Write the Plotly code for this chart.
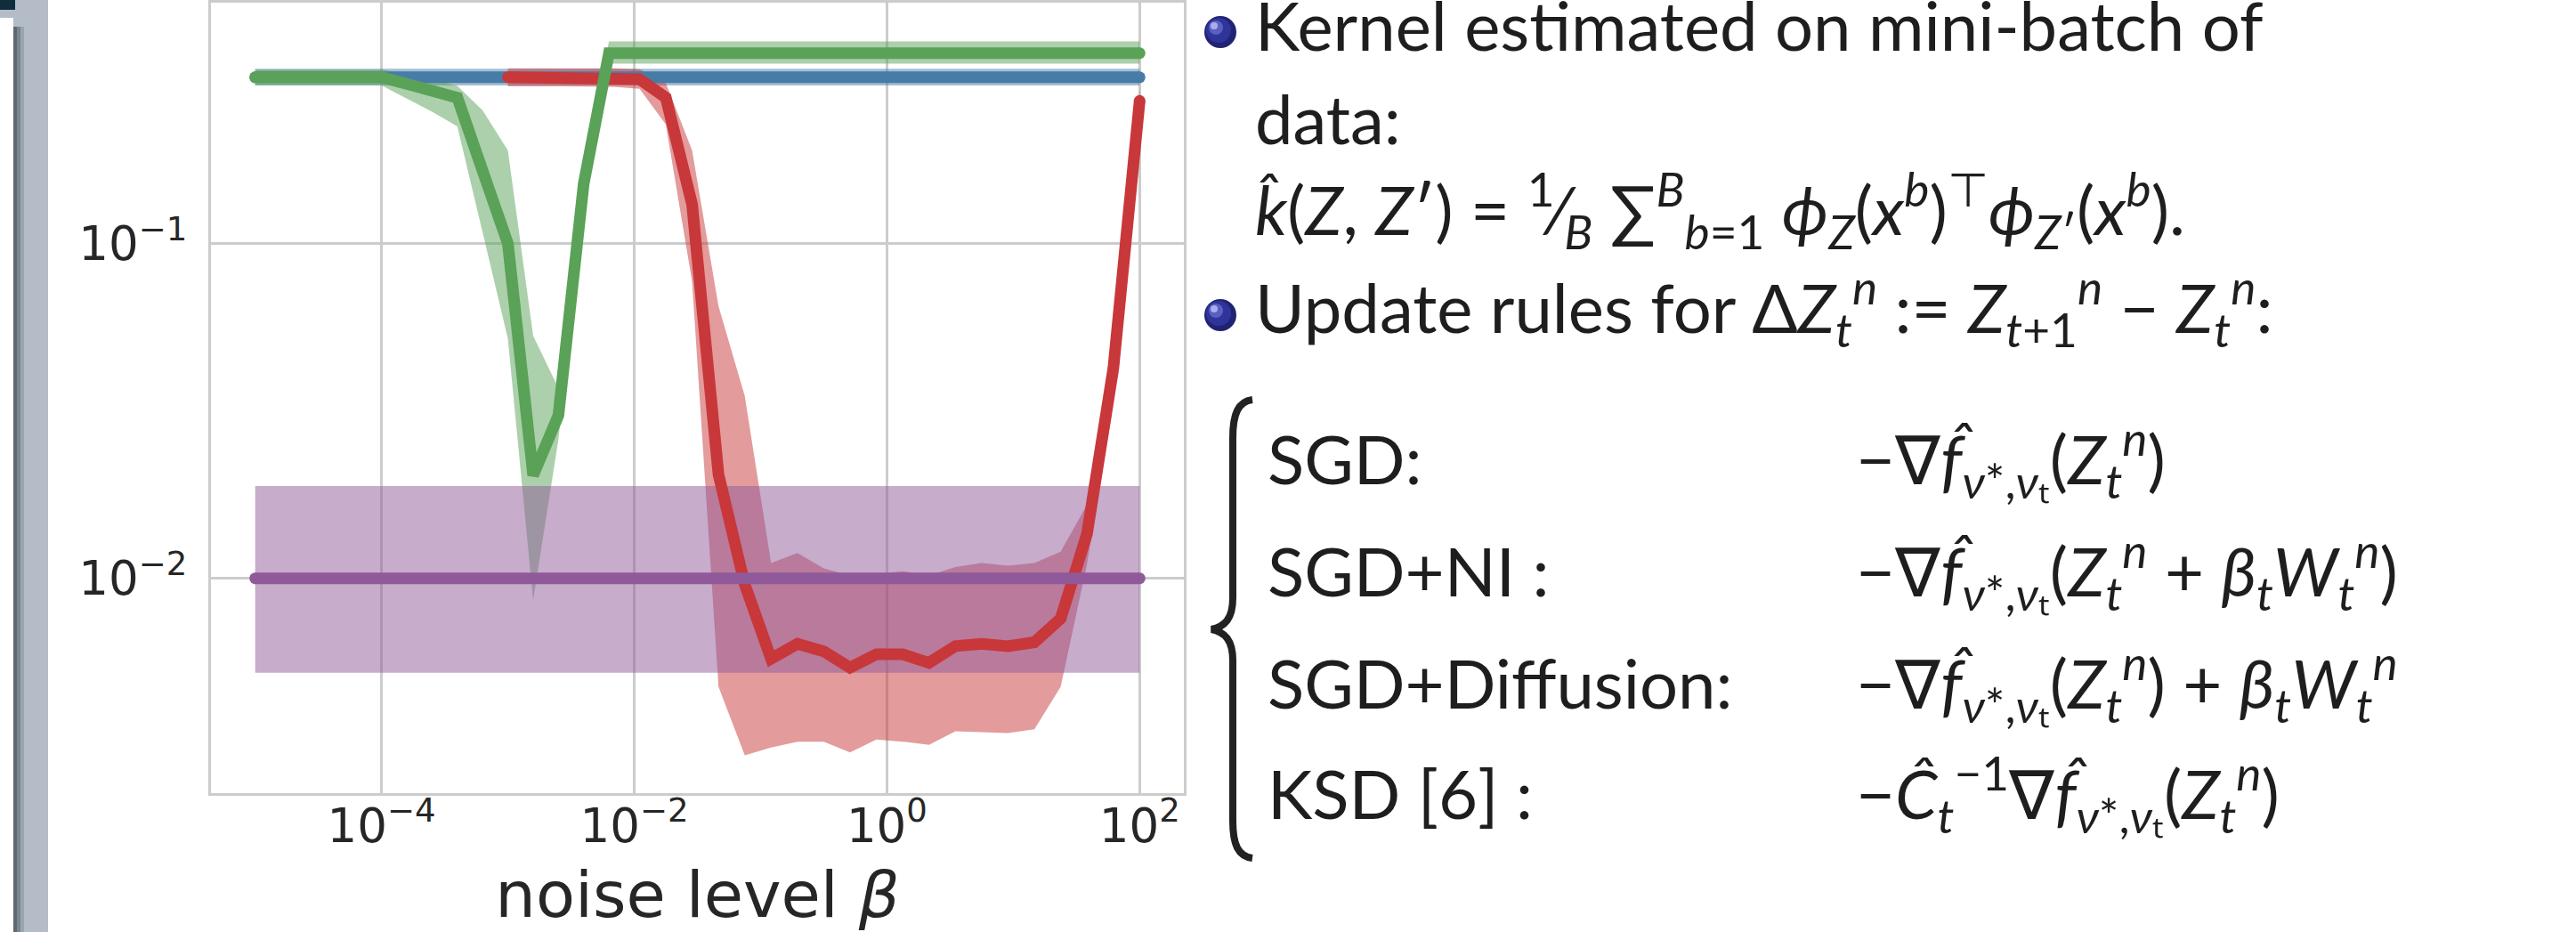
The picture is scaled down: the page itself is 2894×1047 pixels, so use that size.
import numpy as np
import plotly.graph_objects as go

# ---------------- figure geometry ----------------
W, H = 2894, 1047
ML, MR, MT, MB = 237, 1564, 3, 156
PW = W - ML - MR
PH = H - MT - MB


def xp(px):
    return (px - ML) / PW


def yp(py):
    return (H - MB - py) / PH


# ---------------- data ----------------
# noise levels (log10 beta) for the full sweep and for the diffusion sweep
EXP_FULL = [-5.0, -4.8, -4.6, -4.4, -4.2, -4.0, -3.8, -3.6, -3.4, -3.2, -3.0, -2.8,
            -2.6, -2.4, -2.2, -2.0, -1.8, -1.6, -1.4, -1.2, -1.0, -0.8, -0.6, -0.4,
            -0.2, 0.0, 0.2, 0.4, 0.6, 0.8, 1.0, 1.2, 1.4, 1.6, 1.8, 2.0]
EXP_DIFF = [-3.0, -2.792, -2.583, -2.375, -2.167, -1.958, -1.75, -1.542, -1.333,
            -1.125, -0.917, -0.708, -0.5, -0.292, -0.083, 0.125, 0.333, 0.542,
            0.75, 0.958, 1.167, 1.375, 1.583, 1.792, 2.0]

# SGD
sgd_mean = [0.314, 0.314, 0.314, 0.314, 0.314, 0.314, 0.314, 0.314, 0.314, 0.314, 0.314, 0.314,
            0.314, 0.314, 0.314, 0.314, 0.314, 0.314, 0.314, 0.314, 0.314, 0.314, 0.314, 0.314,
            0.314, 0.314, 0.314, 0.314, 0.314, 0.314, 0.314, 0.314, 0.314, 0.314, 0.314, 0.314]
sgd_low = [0.297, 0.297, 0.297, 0.297, 0.297, 0.297, 0.297, 0.297, 0.297, 0.297, 0.297, 0.297,
           0.297, 0.297, 0.297, 0.297, 0.297, 0.297, 0.297, 0.297, 0.297, 0.297, 0.297, 0.297,
           0.297, 0.297, 0.297, 0.297, 0.297, 0.297, 0.297, 0.297, 0.297, 0.297, 0.297, 0.297]
sgd_high = [0.333, 0.333, 0.333, 0.333, 0.333, 0.333, 0.333, 0.333, 0.333, 0.333, 0.333, 0.333,
            0.333, 0.333, 0.333, 0.333, 0.333, 0.333, 0.333, 0.333, 0.333, 0.333, 0.333, 0.333,
            0.333, 0.333, 0.333, 0.333, 0.333, 0.333, 0.333, 0.333, 0.333, 0.333, 0.333, 0.333]

# SGD + noise injection
ni_mean = [0.314, 0.314, 0.314, 0.314, 0.314, 0.314, 0.300, 0.287, 0.273, 0.165, 0.100, 0.0203,
           0.0307, 0.151, 0.371, 0.371, 0.371, 0.371, 0.371, 0.371, 0.371, 0.371, 0.371, 0.371,
           0.371, 0.371, 0.371, 0.371, 0.371, 0.371, 0.371, 0.371, 0.371, 0.371, 0.371, 0.371]
ni_low = [0.297, 0.297, 0.297, 0.297, 0.297, 0.297, 0.272, 0.248, 0.224, 0.108, 0.052, 0.0086,
          0.026, 0.135, 0.345, 0.345, 0.345, 0.345, 0.345, 0.345, 0.345, 0.345, 0.345, 0.345,
          0.345, 0.345, 0.345, 0.345, 0.345, 0.345, 0.345, 0.345, 0.345, 0.345, 0.345, 0.345]
ni_high = [0.331, 0.331, 0.331, 0.331, 0.331, 0.331, 0.322, 0.310, 0.296, 0.250, 0.190, 0.053,
           0.037, 0.165, 0.402, 0.402, 0.402, 0.402, 0.402, 0.402, 0.402, 0.402, 0.402, 0.402,
           0.402, 0.402, 0.402, 0.402, 0.402, 0.402, 0.402, 0.402, 0.402, 0.402, 0.402, 0.402]

# SGD + diffusion
diff_mean = [0.314, 0.314, 0.314, 0.314, 0.313, 0.310, 0.273, 0.131, 0.0204, 0.00958, 0.00575,
             0.00637, 0.00605, 0.00541, 0.00593, 0.00593, 0.00559, 0.00627, 0.00637, 0.00627,
             0.00644, 0.00758, 0.01355, 0.0424, 0.267]
diff_low = [0.295, 0.295, 0.295, 0.295, 0.294, 0.290, 0.227, 0.077, 0.00474, 0.00296, 0.00312,
            0.00325, 0.00325, 0.00302, 0.0033, 0.00325, 0.00318, 0.00349, 0.00347, 0.00345,
            0.00354, 0.00474, 0.011, 0.033, 0.25]
diff_high = [0.334, 0.334, 0.334, 0.334, 0.334, 0.332, 0.302, 0.19, 0.065, 0.035, 0.0111,
             0.0119, 0.0107, 0.0102, 0.0103, 0.0105, 0.0102, 0.0108, 0.0111, 0.0109,
             0.0111, 0.0120, 0.0166, 0.052, 0.29]

# KSD
ksd_mean = [0.01, 0.01, 0.01, 0.01, 0.01, 0.01, 0.01, 0.01, 0.01, 0.01, 0.01, 0.01,
            0.01, 0.01, 0.01, 0.01, 0.01, 0.01, 0.01, 0.01, 0.01, 0.01, 0.01, 0.01,
            0.01, 0.01, 0.01, 0.01, 0.01, 0.01, 0.01, 0.01, 0.01, 0.01, 0.01, 0.01]
ksd_low = [0.00522, 0.00522, 0.00522, 0.00522, 0.00522, 0.00522, 0.00522, 0.00522, 0.00522,
           0.00522, 0.00522, 0.00522, 0.00522, 0.00522, 0.00522, 0.00522, 0.00522, 0.00522,
           0.00522, 0.00522, 0.00522, 0.00522, 0.00522, 0.00522, 0.00522, 0.00522, 0.00522,
           0.00522, 0.00522, 0.00522, 0.00522, 0.00522, 0.00522, 0.00522, 0.00522, 0.00522]
ksd_high = [0.01886, 0.01886, 0.01886, 0.01886, 0.01886, 0.01886, 0.01886, 0.01886, 0.01886,
            0.01886, 0.01886, 0.01886, 0.01886, 0.01886, 0.01886, 0.01886, 0.01886, 0.01886,
            0.01886, 0.01886, 0.01886, 0.01886, 0.01886, 0.01886, 0.01886, 0.01886, 0.01886,
            0.01886, 0.01886, 0.01886, 0.01886, 0.01886, 0.01886, 0.01886, 0.01886, 0.01886]

X_TICKS = [1e-4, 1e-2, 1e0, 1e2]
X_TICKTEXT = ["10<sup>\u22124</sup>", "10<sup>\u22122</sup>", "10<sup>0</sup>", "10<sup>2</sup>"]
Y_TICKS = [1e-2, 1e-1]
Y_TICKTEXT = ["10<sup>\u22122</sup>", "10<sup>\u22121</sup>"]

beta_full = [10 ** e for e in EXP_FULL]
beta_diff = [10 ** e for e in EXP_DIFF]

BLUE, GREEN, RED, PURPLE = "#477ca8", "#59a257", "#c8373a", "#905999"


def rgba(hexc, a):
    h = hexc.lstrip("#")
    return "rgba(%d,%d,%d,%.2f)" % (int(h[0:2], 16), int(h[2:4], 16), int(h[4:6], 16), a)


series = [
    ("SGD", beta_full, sgd_mean, sgd_low, sgd_high, BLUE),
    ("SGD+NI", beta_full, ni_mean, ni_low, ni_high, GREEN),
    ("SGD+Diffusion", beta_diff, diff_mean, diff_low, diff_high, RED),
    ("KSD", beta_full, ksd_mean, ksd_low, ksd_high, PURPLE),
]
line_order = [0, 2, 1, 3]
LW = 13

fig = go.Figure()
for name, xs, m, lo, hi, col in series:
    fig.add_trace(go.Scatter(
        x=list(xs) + list(xs)[::-1], y=list(hi) + list(lo)[::-1],
        fill="toself", fillcolor=rgba(col, 0.5), line=dict(width=0),
        mode="lines", hoverinfo="skip", showlegend=False))
for i in line_order:
    name, xs, m, lo, hi, col = series[i]
    fig.add_trace(go.Scatter(
        x=xs, y=m, mode="lines", name=name,
        line=dict(color=col, width=LW), showlegend=False))
    # round line caps at both ends
    fig.add_trace(go.Scatter(
        x=[xs[0], xs[-1]], y=[m[0], m[-1]], mode="markers", hoverinfo="skip",
        marker=dict(size=LW, color=col, line=dict(width=0)), showlegend=False))

TICK_FONT = dict(family="DejaVu Sans", size=53, color="#262626")
fig.update_xaxes(
    type="log", range=[-5.35, 2.35], tickmode="array", tickvals=X_TICKS, ticktext=X_TICKTEXT,
    showgrid=True, gridcolor="#cccccc", gridwidth=2.5, zeroline=False,
    showline=True, linecolor="#cccccc", linewidth=3, mirror=True, ticks="",
    tickfont=TICK_FONT, ticklabelstandoff=-12,
    title=dict(text="noise level <i>\u03b2</i>", font=dict(family="DejaVu Sans", size=72, color="#262626"),
               standoff=32))
fig.update_yaxes(
    type="log", range=[-2.642, -0.280], tickmode="array", tickvals=Y_TICKS, ticktext=Y_TICKTEXT,
    showgrid=True, gridcolor="#cccccc", gridwidth=2.5, zeroline=False,
    showline=True, linecolor="#cccccc", linewidth=3, mirror=True, ticks="",
    tickfont=TICK_FONT, ticklabelstandoff=13)

# ---------------- slide decoration ----------------
shapes = []


def rect(x0, y0, x1, y1, color):
    shapes.append(dict(type="rect", xref="paper", yref="paper",
                       x0=xp(x0), x1=xp(x1), y0=yp(y1), y1=yp(y0),
                       fillcolor=color, line=dict(width=0), layer="above"))


def circ(cx, cy, r, color):
    shapes.append(dict(type="circle", xref="paper", yref="paper",
                       x0=xp(cx - r), x1=xp(cx + r), y0=yp(cy + r), y1=yp(cy - r),
                       fillcolor=color, line=dict(width=0), layer="above"))


rect(0, 0, 54, H, "#b3bcc7")
rect(0, 20, 15, H, "#ffffff")
rect(15, 30, 19, H, "#5d6972")
rect(19, 30, 23, H, "#7a8690")
rect(23, 30, 27, H, "#9aa5af")
rect(0, 0, 17, 11, "#0f2d3d")

# bullets
for by in (36, 354):
    circ(1371, by, 18, "#1f2372")
    circ(1369, by - 2, 14, "#2f349a")
    circ(1366, by - 5, 8, "#5a60c0")
    circ(1364, by - 7, 4, "#a9aeea")

# brace
pts = [("M", [(1407, 449)]),
       ("C", [(1391, 451), (1385, 465), (1385, 492)]),
       ("L", [(1385, 672)]),
       ("C", [(1385, 695), (1376, 704), (1361, 707)]),
       ("C", [(1376, 710), (1385, 719), (1385, 742)]),
       ("L", [(1385, 922)]),
       ("C", [(1385, 949), (1391, 962), (1407, 964)])]
path = " ".join(cmd + " " + " ".join("%.5f,%.5f" % (xp(a), yp(b)) for a, b in p) for cmd, p in pts)
shapes.append(dict(type="path", xref="paper", yref="paper", path=path,
                   line=dict(color="#222222", width=8), layer="above"))

# ---------------- slide text ----------------
TF = "Lato"
TS = 76
TC = "#1e1e1e"
annots = []


def text(x, baseline, s, size=TS):
    annots.append(dict(x=xp(x), y=yp(baseline - 0.36 * size), xref="paper", yref="paper",
                       xanchor="left", yanchor="middle", showarrow=False, text=s,
                       font=dict(family=TF, size=size, color=TC)))


text(1408, 55, "Kernel estimated on mini-batch of")
text(1408, 160, "data:")
text(1408, 262,
     "<i>k\u0302</i>(<i>Z</i>, <i>Z</i>\u2032) = <sup>1</sup>\u2044<sub><i>B</i></sub>"
     " \u2211<sup><i>B</i></sup><sub><i>b</i>=1</sub> <i>\u03d5</i><sub><i>Z</i></sub>"
     "(<i>x</i><sup><i>b</i></sup>)<sup>\u22a4</sup><i>\u03d5</i><sub><i>Z</i>\u2032</sub>"
     "(<i>x</i><sup><i>b</i></sup>).")
text(1408, 372,
     "Update rules for \u0394<i>Z</i><sub><i>t</i></sub><sup><i>n</i></sup> := "
     "<i>Z</i><sub><i>t</i>+1</sub><sup><i>n</i></sup> \u2212 <i>Z</i><sub><i>t</i></sub><sup><i>n</i></sup>:")

GRAD = "\u2212\u2207<i>f\u0302</i><sub><i>\u03bd</i>*,<i>\u03bd</i>\u209c</sub>"
ZT = "<i>Z</i><sub><i>t</i></sub><sup><i>n</i></sup>"
BW = "<i>\u03b2</i><sub><i>t</i></sub><i>W</i><sub><i>t</i></sub><sup><i>n</i></sup>"
labels = ["SGD:", "SGD+NI :", "SGD+Diffusion:", "KSD [6] :"]
rules = [GRAD + "(" + ZT + ")",
         GRAD + "(" + ZT + " + " + BW + ")",
         GRAD + "(" + ZT + ") + " + BW,
         "\u2212<i>C\u0302</i><sub><i>t</i></sub><sup>\u22121</sup>\u2207<i>f\u0302</i>"
         "<sub><i>\u03bd</i>*,<i>\u03bd</i>\u209c</sub>(" + ZT + ")"]
baselines = [542, 668, 794, 918]
for lab, rule, bl in zip(labels, rules, baselines):
    text(1422, bl, lab)
    text(2083, bl, rule)

fig.update_layout(
    width=W, height=H, margin=dict(l=ML, r=MR, t=MT, b=MB, autoexpand=False),
    paper_bgcolor="white", plot_bgcolor="white", showlegend=False,
    shapes=shapes, annotations=annots)

fig.write_html("out.html")
